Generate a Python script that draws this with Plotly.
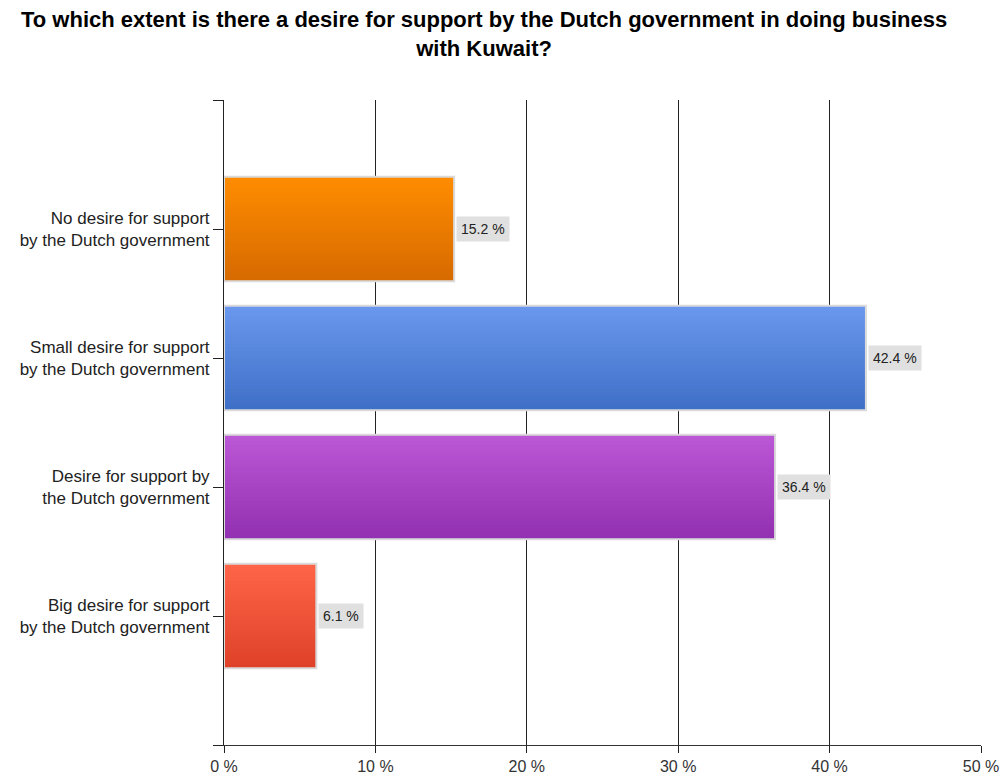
import plotly.graph_objects as go

# Survey answers and their shares (percent)
categories = [
    "No desire for support<br>by the Dutch government",
    "Small desire for support<br>by the Dutch government",
    "Desire for support by<br>the Dutch government",
    "Big desire for support<br>by the Dutch government",
]
values = [15.2, 42.4, 36.4, 6.1]
value_labels = ["15.2 %", "42.4 %", "36.4 %", "6.1 %"]

# Top / bottom colours of each bar's vertical gradient
top_colors = ["#FF8C00", "#6A98EE", "#BC58D6", "#FF6549"]
bottom_colors = ["#D66A00", "#3E6FC6", "#9130B0", "#DE4128"]

x_ticks = [0, 10, 20, 30, 40, 50]
x_ticktext = ["0 %", "10 %", "20 %", "30 %", "40 %", "50 %"]

title_text = ("To which extent is there a desire for support by the Dutch government in doing business"
              "<br>with Kuwait?")

FONT = "Liberation Sans, Arial, sans-serif"

positions = list(range(len(categories)))
bar_w = 0.81
n_slices = 30


def mix(c1, c2, t):
    a = [int(c1[i:i + 2], 16) for i in (1, 3, 5)]
    b = [int(c2[i:i + 2], 16) for i in (1, 3, 5)]
    return "rgb(%d,%d,%d)" % tuple(round(a[k] + (b[k] - a[k]) * t) for k in range(3))


fig = go.Figure()

# Solid base so nothing shows between gradient slices
fig.add_trace(go.Bar(
    y=positions, x=values, orientation="h",
    width=[bar_w] * len(values),
    marker=dict(color=[mix(top_colors[k], bottom_colors[k], 0.5) for k in positions],
                line=dict(width=0)),
    hoverinfo="skip", showlegend=False,
))

# Gradient: overlapping slices across the bar thickness (top light -> bottom dark)
slice_w = bar_w / n_slices
for i in range(n_slices):
    t = (i + 0.5) / n_slices
    w = slice_w * (1.8 if i < n_slices - 1 else 1.0)
    fig.add_trace(go.Bar(
        y=positions, x=values, orientation="h",
        width=[w] * len(values),
        offset=[-bar_w / 2 + i * slice_w] * len(values),
        marker=dict(color=[mix(top_colors[k], bottom_colors[k], t) for k in positions],
                    line=dict(width=0)),
        hoverinfo="skip", showlegend=False,
    ))

# Light grey outline around each bar
fig.add_trace(go.Bar(
    y=positions, x=values, orientation="h",
    width=[bar_w] * len(values),
    marker=dict(color="rgba(0,0,0,0)", line=dict(color="#DADADA", width=2)),
    hoverinfo="skip", showlegend=False,
))

# Value labels on grey boxes
for p, v, lab in zip(positions, values, value_labels):
    fig.add_annotation(
        x=v, y=p, xref="x", yref="y", text=lab, showarrow=False,
        xanchor="left", yanchor="middle", xshift=2,
        font=dict(family=FONT, size=14, color="#222222"),
        bgcolor="#E0E0E0", borderpad=4,
    )

# Two-line chart title
fig.add_annotation(
    x=0.343, y=1.147, xref="paper", yref="paper", text=title_text, showarrow=False,
    xanchor="center", yanchor="top", align="center",
    font=dict(family=FONT, size=22, color="black", weight="bold"),
)

fig.update_layout(
    width=1003, height=776,
    margin=dict(l=224, r=22, t=100, b=31),
    paper_bgcolor="white", plot_bgcolor="white",
    barmode="overlay",
    showlegend=False,
    xaxis=dict(
        range=[0, 50], tickvals=x_ticks, ticktext=x_ticktext,
        showgrid=True, gridcolor="#222222", gridwidth=1,
        showline=True, linecolor="#333333", linewidth=1,
        ticks="outside", ticklen=7, tickcolor="#222222",
        tickfont=dict(family=FONT, size=16, color="#333333"),
        zeroline=False, fixedrange=True, automargin=False,
    ),
    yaxis=dict(
        range=[4, -1],
        tickvals=[-1] + positions + [4],
        ticktext=[""] + categories + [""],
        showgrid=False, zeroline=False,
        showline=True, linecolor="#222222", linewidth=1,
        ticks="outside", ticklen=10, tickcolor="#222222",
        tickfont=dict(family=FONT, size=17, color="#222222"),
        fixedrange=True, automargin=False,
    ),
)

fig.write_html("out.html")
